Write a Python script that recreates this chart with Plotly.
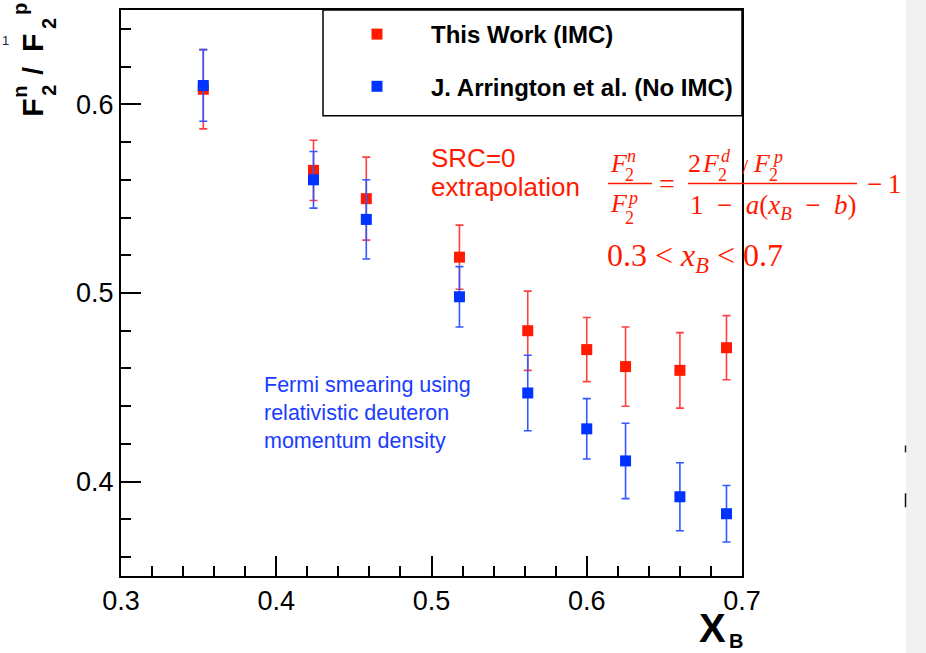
import plotly.graph_objects as go

# ---------------- data ----------------
x_vals = [0.353, 0.424, 0.458, 0.518, 0.562, 0.600, 0.625, 0.660, 0.690]
y_imc = [0.608, 0.565, 0.550, 0.519, 0.480, 0.470, 0.461, 0.459, 0.471]
err_imc = [0.021, 0.016, 0.022, 0.017, 0.021, 0.017, 0.021, 0.020, 0.017]
y_noimc = [0.610, 0.560, 0.539, 0.498, 0.447, 0.428, 0.411, 0.392, 0.383]
err_noimc = [0.019, 0.015, 0.021, 0.016, 0.020, 0.016, 0.020, 0.018, 0.015]
name_imc = "This Work (IMC)"
name_noimc = "J. Arrington et al. (No IMC)"
x_range = [0.3, 0.7]
y_range = [0.35, 0.65]

RED = "#ff1a00"
BLUE = "#0033ff"
SANS = "Liberation Sans, Arial, sans-serif"
SERIF = "Liberation Serif, Times New Roman, serif"

W, H = 926, 653
L, R, T, B = 121, 742, 8, 576


def px(x):
    return (x - L) / (R - L)


def py(y):
    return (B - y) / (B - T)


fig = go.Figure()
fig.add_trace(go.Scatter(
    x=x_vals, y=y_imc, mode="markers", name=name_imc, legendgroup="a",
    marker=dict(symbol="square", size=11, color=RED),
    error_y=dict(type="data", array=err_imc, color="#ff4040", thickness=1.6, width=4),
))
fig.add_trace(go.Scatter(
    x=x_vals, y=y_noimc, mode="markers", name=name_noimc, legendgroup="b",
    marker=dict(symbol="square", size=11, color=BLUE),
    error_y=dict(type="data", array=err_noimc, color="#3358ff", thickness=1.6, width=4),
))

axis_common = dict(
    showgrid=False, zeroline=False, showline=True, mirror=True,
    linecolor="black", linewidth=2, ticks="inside", ticklen=20, tickwidth=1.5,
    tickcolor="black", tickfont=dict(family=SANS, size=27, color="black"),
    dtick=0.1,
)
fig.update_xaxes(range=x_range, tick0=0.3, tickformat=".1f",
                 minor=dict(ticks="inside", ticklen=10, tickwidth=1.5, tickcolor="black", dtick=0.02, tick0=0.3),
                 **axis_common)
fig.update_yaxes(range=y_range, tick0=0.0, tickformat=".1f",
                 minor=dict(ticks="inside", ticklen=10, tickwidth=1.5, tickcolor="black", dtick=0.02, tick0=0.0),
                 **axis_common)

anns = []


def ann(text, x, y, size, color="black", family=SANS, xanchor="center", yanchor="middle", angle=0):
    anns.append(dict(text=text, x=px(x), y=py(y), xref="paper", yref="paper", showarrow=False,
                     xanchor=xanchor, yanchor=yanchor, textangle=angle,
                     font=dict(family=family, size=size, color=color)))


# y title (rotated, stacked sub/sup)
ann("<b>F</b>", 33, 106, 30, angle=-90)
ann("<b>2</b>", 49, 89, 20, angle=-90)
ann("<b>n</b>", 20, 90, 20, angle=-90)
ann("<b>/</b>", 33, 69, 28, angle=-90)
ann("<b>F</b>", 33, 41, 30, angle=-90)
ann("<b>2</b>", 49, 22, 20, angle=-90)
ann("<b>p</b>", 20, 7, 20, angle=-90)

# x title
ann("<b>X</b>", 712, 628, 40)
ann("<b>B</b>", 736, 641, 20)

# red annotation text
ann("SRC=0", 429, 157, 26, RED, xanchor="left")
ann("extrapolation", 429, 186, 26, RED, xanchor="left")

# formula
ann("<i>F</i>", 608, 162, 26, RED, SERIF, xanchor="left")
ann("<i>n</i>", 625, 155, 18, RED, SERIF, xanchor="left")
ann("2", 623, 174, 18, RED, SERIF, xanchor="left")
ann("<i>F</i>", 608, 202, 26, RED, SERIF, xanchor="left")
ann("<i>p</i>", 625, 197, 18, RED, SERIF, xanchor="left")
ann("2", 623, 217, 18, RED, SERIF, xanchor="left")
ann("=", 667, 182, 28, RED, SERIF)
ann("2", 686, 162, 26, RED, SERIF, xanchor="left")
ann("<i>F</i>", 700, 162, 26, RED, SERIF, xanchor="left")
ann("<i>d</i>", 719, 155, 18, RED, SERIF, xanchor="left")
ann("2", 716, 174, 18, RED, SERIF, xanchor="left")
ann("/", 745, 165, 22, RED, SERIF)
ann("<i>F</i>", 751, 162, 26, RED, SERIF, xanchor="left")
ann("<i>p</i>", 770, 156, 18, RED, SERIF, xanchor="left")
ann("2", 767, 174, 18, RED, SERIF, xanchor="left")
ann("1\u2002\u2212\u2002<i>a</i>(<i>x</i><sub><i>B</i></sub>\u2002\u2212\u2002<i>b</i>)", 773, 206, 27, RED, SERIF)
ann("\u2212\u20091", 884, 183, 27, RED, SERIF)
ann("0.3 &lt; <i>x</i><sub><i>B</i></sub> &lt; 0.7", 605, 256, 32, RED, SERIF, xanchor="left")

# blue annotation
BLUE_T = "#1a3cff"
ann("Fermi smearing using", 262, 384, 21.5, BLUE_T, xanchor="left")
ann("relativistic deuteron", 262, 412, 21.5, BLUE_T, xanchor="left")
ann("momentum density", 262, 441, 21.5, BLUE_T, xanchor="left")

# stray page artifact
ann("1", 0, 39, 13, "#222244", xanchor="left")

shapes = [
    # legend box
    dict(type="rect", xref="paper", yref="paper", x0=px(323), x1=px(742), y0=py(114), y1=py(8),
         line=dict(color="black", width=1.5)),
    # fraction bars
    dict(type="line", xref="paper", yref="paper", x0=px(608), x1=px(652), y0=py(182), y1=py(182),
         line=dict(color=RED, width=1.5)),
    dict(type="line", xref="paper", yref="paper", x0=px(688), x1=px(857), y0=py(182), y1=py(182),
         line=dict(color=RED, width=1.5)),
    # right-hand grey page strip
    dict(type="rect", xref="paper", yref="paper", x0=px(906), x1=px(930), y0=py(660), y1=py(-5),
         line=dict(width=0), fillcolor="#f1f1f1", layer="below"),
    dict(type="line", xref="paper", yref="paper", x0=px(905.5), x1=px(905.5), y0=py(445), y1=py(452),
         line=dict(color="#222", width=1.5)),
    dict(type="line", xref="paper", yref="paper", x0=px(905.5), x1=px(905.5), y0=py(493), y1=py(507),
         line=dict(color="#111", width=1.5)),
]

fig.update_layout(
    width=W, height=H,
    margin=dict(l=L, r=W - R, t=T, b=H - B),
    paper_bgcolor="white", plot_bgcolor="white",
    showlegend=True,
    legend=dict(x=px(323), xanchor="left", y=py(10), yanchor="top",
                bgcolor="rgba(0,0,0,0)", borderwidth=0, tracegroupgap=18,
                traceorder="grouped", itemwidth=98,
                font=dict(family=SANS, size=24, color="black", weight="bold")),
    annotations=anns, shapes=shapes,
)

fig.write_html("out.html")
